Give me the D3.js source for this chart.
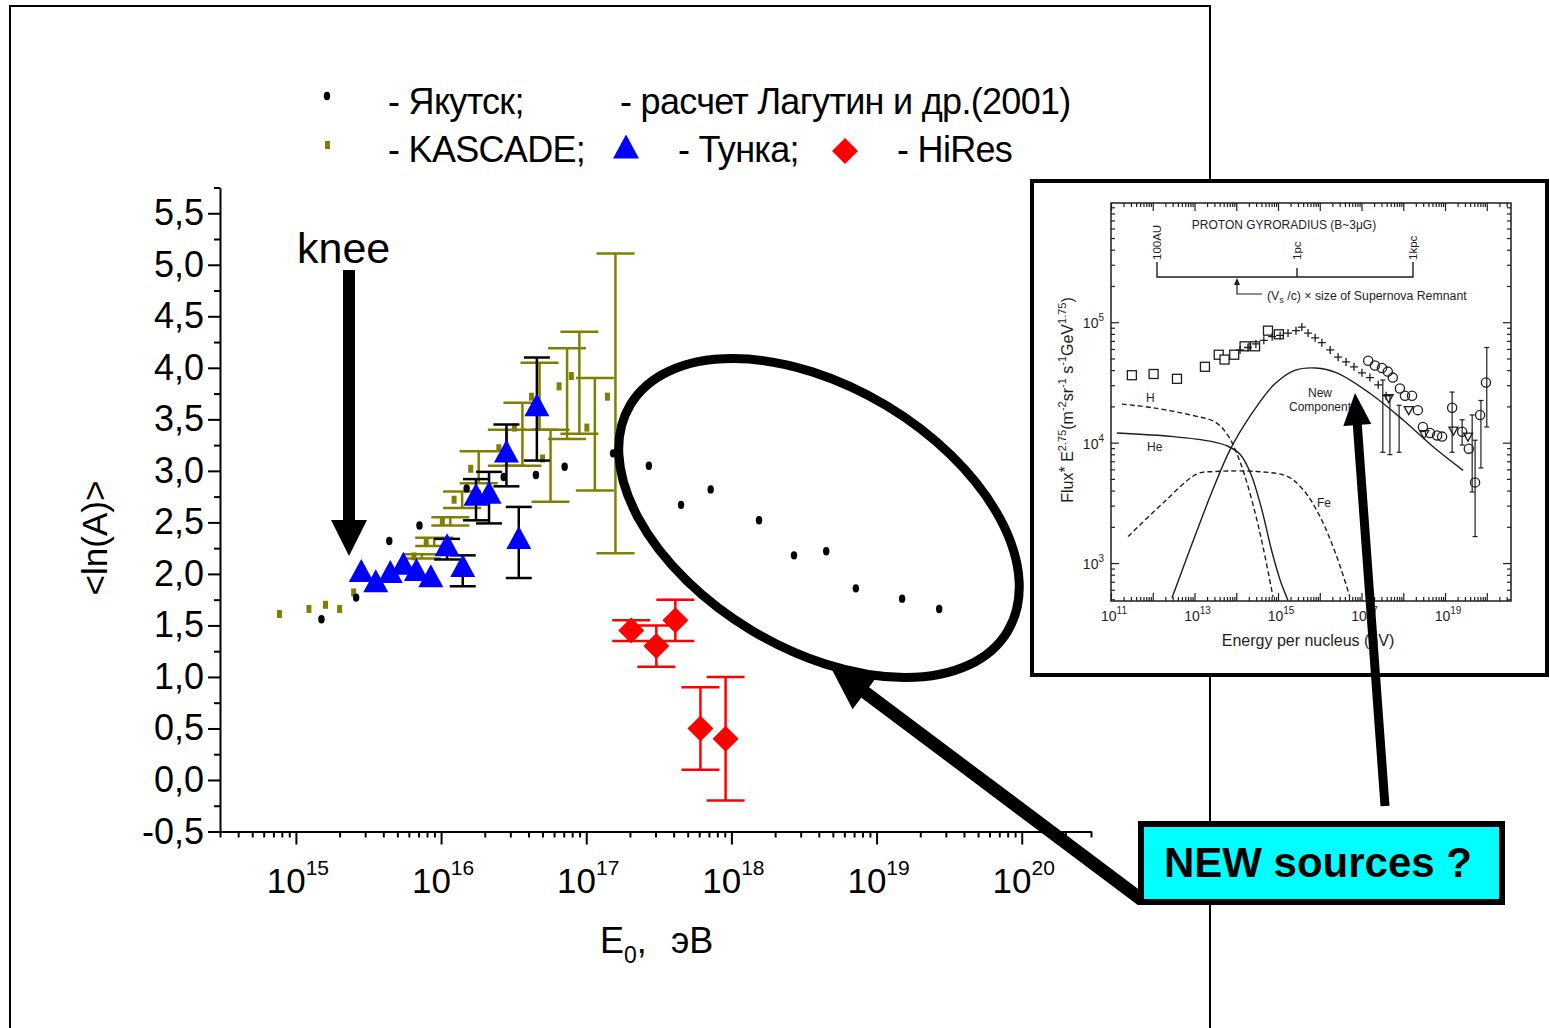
<!DOCTYPE html>
<html><head><meta charset="utf-8">
<script src="https://cdn.jsdelivr.net/npm/d3@7"></script>
<style>body{margin:0;background:#fff}svg{display:block}text{font-family:"Liberation Sans",Arial,sans-serif}</style>
</head><body><svg id="c" width="1550" height="1028"></svg>
<script>
// ---------------- DATA (main chart) ----------------
const yakutskE   = [1.5e15,2.6e15,4.4e15,7.1e15,1.5e16,2.7e16,4.5e16,7.1e16,1.53e17,2.7e17,4.5e17,7.2e17,1.55e18,2.7e18,4.5e18,7.2e18,1.5e19,2.7e19];
const yakutskLnA = [1.56,1.77,2.32,2.47,2.83,2.94,2.96,3.04,3.17,3.05,2.67,2.82,2.52,2.18,2.22,1.86,1.76,1.66];

const kascadeE   = [7.7e14,1.23e15,1.6e15,2.0e15,2.5e15,6.5e15,7.9e15,1.02e16,1.23e16,1.6e16,2.5e16,3.2e16,4.2e16,5.0e16,6.5e16,7.9e16,1.01e17,1.4e17];
const kascadeLnA = [1.61,1.66,1.70,1.66,1.82,2.17,2.31,2.51,2.72,3.02,3.22,3.42,3.72,3.12,3.82,3.92,3.42,3.72];
const kascadeLo  = [1.61,1.66,1.70,1.66,1.82,2.15,2.27,2.47,2.64,2.88,3.05,3.05,3.40,2.70,3.31,3.36,2.81,2.20];
const kascadeHi  = [1.61,1.66,1.70,1.66,1.82,2.19,2.35,2.55,2.80,3.19,3.40,3.66,4.05,3.40,4.19,4.35,3.90,5.11];

const tunkaE   = [2.82e15,3.55e15,4.47e15,5.5e15,6.76e15,8.5e15,1.1e16,1.41e16,1.74e16,2.14e16,2.82e16,3.43e16,4.57e16];
const tunkaLnA = [2.01,1.91,2.00,2.08,2.02,1.96,2.26,2.06,2.75,2.77,3.17,2.33,3.62];
const tunkaLo  = [2.01,1.91,2.00,2.08,2.02,1.96,2.14,1.88,2.52,2.49,2.85,1.96,3.10];
const tunkaHi  = [2.01,1.91,2.00,2.08,2.02,1.96,2.34,2.18,2.92,2.99,3.45,2.65,4.10];

const hiresE   = [2.04e17,3.04e17,4.11e17,6.12e17,9.12e17];
const hiresLnA = [1.45,1.30,1.55,0.50,0.40];
const hiresLo  = [1.35,1.10,1.35,0.10,-0.20];
const hiresHi  = [1.55,1.50,1.75,0.90,1.00];

const xMajorTicks = [1e15,1e16,1e17,1e18,1e19,1e20];
const xTickExp    = ["15","16","17","18","19","20"];
const yMajorTicks = [-0.5,0,0.5,1,1.5,2,2.5,3,3.5,4,4.5,5,5.5];

const legendRow1 = ["- Якутск;","- расчет Лагутин и др.(2001)"];
const legendRow2 = ["- KASCADE;","- Тунка;","- HiRes"];

// ---------------- DATA (inset: log10 E, log10 flux) ----------------
const insetH   = [[11.26,4.32],[12.0,4.29],[12.9,4.23],[13.5,4.17],[13.8,4.06],[14.0,3.92],[14.2,3.73],[14.45,3.42],[14.65,3.12],[14.88,2.72]];
const insetHe  = [[11.14,4.08],[12.5,4.05],[13.4,4.01],[13.8,3.97],[14.1,3.9],[14.35,3.74],[14.6,3.46],[14.85,3.1],[15.05,2.86],[15.24,2.69]];
const insetFe  = [[11.41,3.22],[12.25,3.5],[13.06,3.74],[13.5,3.76],[14.5,3.76],[15.22,3.72],[15.6,3.61],[16.0,3.39],[16.41,3.05],[16.72,2.72]];
const insetNew = [[12.46,2.71],[13.06,3.27],[13.44,3.61],[13.85,3.94],[14.33,4.22],[14.9,4.48],[15.4,4.6],[15.9,4.62],[16.41,4.58],[17.2,4.41],[17.99,4.19],[18.7,3.97],[19.43,3.77]];
const insetSquares = [[11.5,4.56],[12.02,4.57],[12.58,4.53],[13.25,4.63],[13.58,4.73],[13.72,4.69],[13.95,4.73],[14.2,4.80],[14.45,4.80],[14.76,4.93],[15.02,4.90]];
const insetCrosses = [[14.09,4.77],[14.28,4.79],[14.47,4.82],[14.66,4.85],[14.86,4.88],[15.05,4.89],[15.24,4.91],[15.43,4.93],[15.57,4.96],[15.72,4.91],[15.89,4.87],[16.05,4.83],[16.25,4.77],[16.44,4.71],[16.63,4.67],[16.82,4.63],[17.01,4.58],[17.2,4.54],[17.4,4.48],[17.59,4.39]];
const insetCircles = [[17.16,4.68],[17.32,4.64],[17.49,4.62],[17.63,4.59],[17.75,4.54],[17.92,4.45],[18.04,4.39],[18.21,4.39],[18.35,4.27],[18.47,4.13],[18.64,4.08],[18.81,4.06],[18.93,4.05],[19.17,4.29],[19.41,4.09],[19.57,3.95],[19.72,3.67],[19.84,4.23],[19.98,4.50]];
const insetTriangles = [[17.65,4.37],[18.13,4.27],[18.5,4.07],[19.2,4.1],[19.55,4.05]];
const insetErrBars = [[17.51,3.92,4.52],[17.68,3.90,4.39],[17.90,3.92,4.31],[19.17,3.92,4.42],[19.41,3.98,4.19],[19.65,3.59,4.23],[19.72,3.22,4.02],[19.86,3.79,4.35],[20.0,4.13,4.79]];
const insetXLabels = [11,13,15,17,19];
const insetYLabels = [3,4,5];

// ---------------- DRAW ----------------
const svg = d3.select("#c");
svg.append("rect").attr("width",1550).attr("height",1028).attr("fill","#fff");
svg.append("path").attr("d","M10,1028 V6 H1210 V1028").attr("fill","none").attr("stroke","#000").attr("stroke-width",2);

const x = d3.scaleLog().domain([3e14,3e20]).range([220,1091]);
const y = d3.scaleLinear().domain([-0.5,5.75]).range([831.5,187.5]);

const xMinor = [];
for (let e=14;e<=20;e++) for (let m=2;m<=9;m++){const v=m*Math.pow(10,e); if(v>=3e14*0.999 && v<=3e20*1.001) xMinor.push(v);}
const yMinor = d3.range(-0.25,5.8,0.5);

function styleAxis(g){ g.selectAll("path,line").attr("stroke","#000").attr("stroke-width",2); }

const gx = svg.append("g").attr("transform","translate(0,831.5)")
  .call(d3.axisBottom(x).tickValues(xMajorTicks).tickSize(13).tickSizeOuter(0).tickFormat(""));
styleAxis(gx);
const gx2 = svg.append("g").attr("transform","translate(0,831.5)")
  .call(d3.axisBottom(x).tickValues(xMinor).tickSize(6).tickSizeOuter(0).tickFormat(""));
gx2.select(".domain").remove(); styleAxis(gx2);

const fmtY = d => d3.format(".1f")(d).replace(".",",").replace("\u2212","-");
const gy = svg.append("g").attr("transform","translate(220,0)")
  .call(d3.axisLeft(y).tickValues(yMajorTicks).tickSize(12).tickSizeOuter(0).tickPadding(4).tickFormat(fmtY));
styleAxis(gy);
gy.selectAll("text").attr("font-size",36).attr("font-family",'"Liberation Sans",Arial,sans-serif').attr("fill","#000");
const gy2 = svg.append("g").attr("transform","translate(220,0)")
  .call(d3.axisLeft(y).tickValues(yMinor).tickSize(6).tickSizeOuter(0).tickFormat(""));
gy2.select(".domain").remove(); styleAxis(gy2);

xMajorTicks.forEach((v,i)=>{
  const t = svg.append("text").attr("x",x(v)+2).attr("y",893).attr("text-anchor","middle").attr("font-size",35);
  t.append("tspan").text("10");
  t.append("tspan").attr("font-size",21).attr("dy",-18).text(xTickExp[i]);
});

svg.append("text").attr("transform","translate(107,538) rotate(-90)").attr("text-anchor","middle").attr("font-size",35).text("<ln(A)>");
const xt = svg.append("text").attr("x",600).attr("y",953).attr("font-size",36);
xt.append("tspan").text("E");
xt.append("tspan").attr("font-size",23).attr("dy",10).text("0");
xt.append("tspan").attr("dy",-10).text(",");
svg.append("text").attr("x",671).attr("y",953).attr("font-size",36).text("эВ");

// --- KASCADE (olive)
const OL = "#808000";
const kOff = 8;
kascadeE.forEach((e,i)=>{
  if (kascadeHi[i] > kascadeLo[i]) {
    const bx = x(e)+kOff;
    svg.append("line").attr("x1",bx).attr("x2",bx).attr("y1",y(kascadeLo[i])).attr("y2",y(kascadeHi[i])).attr("stroke",OL).attr("stroke-width",2.5);
    [kascadeLo[i],kascadeHi[i]].forEach(v=>svg.append("line").attr("x1",bx-19).attr("x2",bx+19).attr("y1",y(v)).attr("y2",y(v)).attr("stroke",OL).attr("stroke-width",2.5));
  }
});
kascadeE.forEach((e,i)=>{
  svg.append("rect").attr("x",x(e)-2.5).attr("y",y(kascadeLnA[i])-4).attr("width",5).attr("height",8).attr("fill",OL);
});

// --- ellipse annotation (under the black dots)
svg.append("ellipse").attr("cx",819).attr("cy",518).attr("rx",220).attr("ry",131)
  .attr("transform","rotate(31,819,518)").attr("fill","none").attr("stroke","#000").attr("stroke-width",9);

// --- Yakutsk (black dots)
yakutskE.forEach((e,i)=>{
  svg.append("ellipse").attr("cx",x(e)).attr("cy",y(yakutskLnA[i])).attr("rx",3.2).attr("ry",4.2).attr("fill","#000");
});

// --- Tunka (blue triangles, black bars)
tunkaE.forEach((e,i)=>{
  if (tunkaHi[i] > tunkaLo[i]) {
    const bx = x(e);
    svg.append("line").attr("x1",bx).attr("x2",bx).attr("y1",y(tunkaLo[i])).attr("y2",y(tunkaHi[i])).attr("stroke","#000").attr("stroke-width",2.5);
    [tunkaLo[i],tunkaHi[i]].forEach(v=>svg.append("line").attr("x1",bx-13).attr("x2",bx+13).attr("y1",y(v)).attr("y2",y(v)).attr("stroke","#000").attr("stroke-width",2.5));
  }
});
const triPath = (cx,cy,w,h)=>`M${cx},${cy-h*0.6}L${cx+w/2},${cy+h*0.4}L${cx-w/2},${cy+h*0.4}Z`;
tunkaE.forEach((e,i)=>{
  svg.append("path").attr("d",triPath(x(e),y(tunkaLnA[i]),25,23)).attr("fill","#0000FF");
});

// --- HiRes (red diamonds)
hiresE.forEach((e,i)=>{
  const bx = x(e);
  svg.append("line").attr("x1",bx).attr("x2",bx).attr("y1",y(hiresLo[i])).attr("y2",y(hiresHi[i])).attr("stroke","#FF0000").attr("stroke-width",2.5);
  [hiresLo[i],hiresHi[i]].forEach(v=>svg.append("line").attr("x1",bx-19).attr("x2",bx+19).attr("y1",y(v)).attr("y2",y(v)).attr("stroke","#FF0000").attr("stroke-width",2.5));
});
const diaPath = (cx,cy,r)=>`M${cx},${cy-r}L${cx+r},${cy}L${cx},${cy+r}L${cx-r},${cy}Z`;
hiresE.forEach((e,i)=>{
  svg.append("path").attr("d",diaPath(x(e),y(hiresLnA[i]),13)).attr("fill","#FF0000");
});

// --- legend
const LF = 36, LS = -0.7;
svg.append("ellipse").attr("cx",327).attr("cy",96).attr("rx",3.2).attr("ry",4.2).attr("fill","#000");
svg.append("text").attr("x",388).attr("y",114).attr("font-size",LF).attr("letter-spacing",LS).text(legendRow1[0]);
svg.append("text").attr("x",620).attr("y",114).attr("font-size",LF).attr("letter-spacing",LS).text(legendRow1[1]);
svg.append("rect").attr("x",325).attr("y",141).attr("width",5).attr("height",8).attr("fill",OL);
svg.append("text").attr("x",388).attr("y",162).attr("font-size",LF).attr("letter-spacing",LS).text(legendRow2[0]);
svg.append("path").attr("d",triPath(626,149,26,24)).attr("fill","#0000FF");
svg.append("text").attr("x",678).attr("y",162).attr("font-size",LF).attr("letter-spacing",LS).text(legendRow2[1]);
svg.append("path").attr("d",diaPath(845,151,13)).attr("fill","#FF0000");
svg.append("text").attr("x",897).attr("y",162).attr("font-size",LF).attr("letter-spacing",LS).text(legendRow2[2]);

// --- annotations
function arrow(g,x1,y1,x2,y2,sw,hl,hw){
  const dx=x2-x1, dy=y2-y1, L=Math.hypot(dx,dy), ux=dx/L, uy=dy/L, px=-uy, py=ux;
  const bx=x2-ux*hl, by=y2-uy*hl;
  g.append("line").attr("x1",x1).attr("y1",y1).attr("x2",bx+ux*2).attr("y2",by+uy*2).attr("stroke","#000").attr("stroke-width",sw);
  g.append("path").attr("d",`M${x2},${y2}L${bx+px*hw/2},${by+py*hw/2}L${bx-px*hw/2},${by-py*hw/2}Z`).attr("fill","#000");
}
svg.append("text").attr("x",297).attr("y",263).attr("font-size",43).text("knee");
arrow(svg,349,270,349,556,12,36,36);

// ---------------- INSET ----------------
const ins = svg.append("g");
ins.append("rect").attr("x",1032).attr("y",181).attr("width",515).attr("height",494).attr("fill","#fff").attr("stroke","#000").attr("stroke-width",4);
const IC = "#1e1e1e";
const ix = d3.scaleLog().domain([1e11,Math.pow(10,20.58)]).range([1111,1511]);
const iy = d3.scaleLog().domain([Math.pow(10,2.685),Math.pow(10,5.99)]).range([601,203]);
const P = d => [ix(Math.pow(10,d[0])), iy(Math.pow(10,d[1]))];

ins.append("rect").attr("x",1111).attr("y",203).attr("width",400).attr("height",398).attr("fill","none").attr("stroke",IC).attr("stroke-width",1.5);
const ixMaj=[], ixMin=[], iyMaj=[], iyMin=[];
for(let e=11;e<=20;e++){ ixMaj.push(Math.pow(10,e)); for(let m=2;m<=9;m++){const v=m*Math.pow(10,e); if(v<Math.pow(10,20.58)) ixMin.push(v);} }
for(let e=2;e<=5;e++){ if(e>=3) iyMaj.push(Math.pow(10,e)); for(let m=2;m<=9;m++){const v=m*Math.pow(10,e); if(v>Math.pow(10,2.685)&&v<Math.pow(10,5.99)) iyMin.push(v);} }
function insAxis(axisFn, scale, vals, size, tr){
  const g = ins.append("g").attr("transform",tr).call(axisFn(scale).tickValues(vals).tickSize(size).tickSizeOuter(0).tickFormat(""));
  g.select(".domain").remove(); g.selectAll("line").attr("stroke",IC).attr("stroke-width",1.2);
}
insAxis(d3.axisBottom, ix, ixMaj, -8, "translate(0,601)");
insAxis(d3.axisBottom, ix, ixMin, -4, "translate(0,601)");
insAxis(d3.axisTop, ix, ixMaj, -8, "translate(0,203)");
insAxis(d3.axisTop, ix, ixMin, -4, "translate(0,203)");
insAxis(d3.axisLeft, iy, iyMaj, -8, "translate(1111,0)");
insAxis(d3.axisLeft, iy, iyMin, -4, "translate(1111,0)");
insAxis(d3.axisRight, iy, iyMaj, -8, "translate(1511,0)");
insAxis(d3.axisRight, iy, iyMin, -4, "translate(1511,0)");

insetXLabels.forEach(e=>{
  const t=ins.append("text").attr("x",ix(Math.pow(10,e))+3).attr("y",621).attr("text-anchor","middle").attr("font-size",14).attr("fill",IC);
  t.append("tspan").text("10"); t.append("tspan").attr("font-size",10).attr("dy",-7).text(e);
});
insetYLabels.forEach(e=>{
  const t=ins.append("text").attr("x",1104).attr("y",iy(Math.pow(10,e))+6).attr("text-anchor","end").attr("font-size",14).attr("fill",IC);
  t.append("tspan").text("10"); t.append("tspan").attr("font-size",10).attr("dy",-7).text(e);
});
ins.append("text").attr("x",1308).attr("y",646).attr("text-anchor","middle").attr("font-size",16).attr("fill",IC).text("Energy per nucleus (eV)");
const yl = ins.append("text").attr("transform","translate(1073,400) rotate(-90)").attr("text-anchor","middle").attr("font-size",16).attr("fill",IC);
yl.append("tspan").text("Flux");
yl.append("tspan").attr("dy",-2).text("*");
yl.append("tspan").attr("dy",2).text(" E");
yl.append("tspan").attr("font-size",11).attr("dy",-7).text("2.75");
yl.append("tspan").attr("dy",7).text("(m");
yl.append("tspan").attr("font-size",11).attr("dy",-7).text("-2");
yl.append("tspan").attr("dy",7).text("sr");
yl.append("tspan").attr("font-size",11).attr("dy",-7).text("-1");
yl.append("tspan").attr("dy",7).text(" s");
yl.append("tspan").attr("font-size",11).attr("dy",-7).text("-1");
yl.append("tspan").attr("dy",7).text("GeV");
yl.append("tspan").attr("font-size",11).attr("dy",-7).text("1.75");
yl.append("tspan").attr("dy",7).text(")");

const ln = d3.line().x(d=>P(d)[0]).y(d=>P(d)[1]).curve(d3.curveCatmullRom.alpha(0.5));
ins.append("path").attr("d",ln(insetH)).attr("fill","none").attr("stroke",IC).attr("stroke-width",1.4).attr("stroke-dasharray","5,3");
ins.append("path").attr("d",ln(insetHe)).attr("fill","none").attr("stroke",IC).attr("stroke-width",1.4);
ins.append("path").attr("d",ln(insetFe)).attr("fill","none").attr("stroke",IC).attr("stroke-width",1.4).attr("stroke-dasharray","5,3");
ins.append("path").attr("d",ln(insetNew)).attr("fill","none").attr("stroke",IC).attr("stroke-width",1.4);

insetErrBars.forEach(d=>{
  const [bx,b1]=P([d[0],d[1]]), b2=P([d[0],d[2]])[1];
  ins.append("line").attr("x1",bx).attr("x2",bx).attr("y1",b1).attr("y2",b2).attr("stroke",IC).attr("stroke-width",1.2);
  [b1,b2].forEach(v=>ins.append("line").attr("x1",bx-2.5).attr("x2",bx+2.5).attr("y1",v).attr("y2",v).attr("stroke",IC).attr("stroke-width",1.2));
});
insetSquares.forEach(d=>{const [a,b]=P(d); ins.append("rect").attr("x",a-4.5).attr("y",b-4.5).attr("width",9).attr("height",9).attr("fill","#fff").attr("stroke",IC).attr("stroke-width",1.3);});
insetCrosses.forEach(d=>{const [a,b]=P(d); ins.append("path").attr("d",`M${a-4},${b}H${a+4}M${a},${b-4}V${b+4}`).attr("stroke",IC).attr("stroke-width",1.3);});
insetCircles.forEach(d=>{const [a,b]=P(d); ins.append("circle").attr("cx",a).attr("cy",b).attr("r",4.6).attr("fill","none").attr("stroke",IC).attr("stroke-width",1.3);});
insetTriangles.forEach(d=>{const [a,b]=P(d); ins.append("path").attr("d",`M${a-4.5},${b-3.5}H${a+4.5}L${a},${b+4.5}Z`).attr("fill","none").attr("stroke",IC).attr("stroke-width",1.3);});

ins.append("text").attr("x",1146).attr("y",402).attr("font-size",12).attr("fill",IC).text("H");
ins.append("text").attr("x",1147).attr("y",451).attr("font-size",12).attr("fill",IC).text("He");
ins.append("text").attr("x",1317).attr("y",507).attr("font-size",12).attr("fill",IC).text("Fe");
ins.append("text").attr("x",1320).attr("y",397).attr("text-anchor","middle").attr("font-size",12).attr("fill",IC).text("New");
ins.append("text").attr("x",1289).attr("y",411).attr("font-size",12).attr("fill",IC).text("Component");

ins.append("text").attr("x",1284).attr("y",229).attr("text-anchor","middle").attr("font-size",12).attr("fill",IC).text("PROTON GYRORADIUS (B~3\u03bcG)");
ins.append("path").attr("d","M1157,262V277H1413V262M1297,277V268").attr("fill","none").attr("stroke",IC).attr("stroke-width",1.4);
[[1161,"100AU"],[1301,"1pc"],[1417,"1kpc"]].forEach(d=>{
  ins.append("text").attr("transform",`translate(${d[0]},260) rotate(-90)`).attr("font-size",11.5).attr("fill",IC).text(d[1]);
});
ins.append("path").attr("d","M1262,294H1237V281").attr("fill","none").attr("stroke",IC).attr("stroke-width",1.2);
ins.append("path").attr("d","M1237,278L1234,285H1240Z").attr("fill",IC);
const vs = ins.append("text").attr("x",1267).attr("y",300).attr("font-size",12.3).attr("fill",IC);
vs.append("tspan").text("(V");
vs.append("tspan").attr("font-size",9).attr("dy",3).text("s");
vs.append("tspan").attr("dy",-3).text(" /c) \u00d7 size of Supernova Remnant");

// ---------------- NEW sources ----------------
arrow(svg,1142,900,830,666,13,44,42);
svg.append("rect").attr("x",1141).attr("y",824).attr("width",361).attr("height",78).attr("fill","#00FFFF").attr("stroke","#000").attr("stroke-width",6);
svg.append("text").attr("x",1318).attr("y",877).attr("text-anchor","middle").attr("font-size",42).attr("font-weight","bold").text("NEW sources ?");
arrow(svg,1385,806,1355,393,9,32,28);
</script></body></html>
